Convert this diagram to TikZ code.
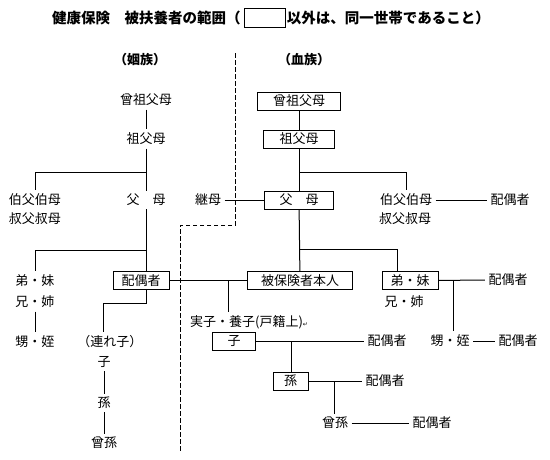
\documentclass[tikz,border=0pt]{standalone}
\usepackage{fontspec}
\setmainfont{Noto Sans CJK JP}
\newfontfamily\symfont{DejaVu Sans}
\usetikzlibrary{positioning}

\tikzset{
  kin/.style={draw, line width=0.8pt, minimum height=18pt, inner xsep=2pt, inner ysep=1pt},
  link/.style={line width=1pt},
  border/.style={line width=1pt, dash pattern=on 4.5pt off 2.5pt},
  heading/.style={anchor=west, inner sep=0pt, font=\fontsize{14.5}{16}\selectfont\bfseries}
}

\begin{document}
\begin{tikzpicture}[x=1pt, y=-1pt, font=\fontsize{13}{19}\selectfont]
    \useasboundingbox (0,0) rectangle (550,459);

    % Titre
    \node[heading] (title) at (52,18) {健康保険　被扶養者の範囲（};
    \node[draw, line width=0.8pt, minimum width=41pt, minimum height=19pt, inner sep=0pt, right=3pt of title] (legend) {};
    \node[heading, right=1pt of legend] (title2) {以外は、同一世帯であること）};

    % Limite姻族 / 血族 (pointillés)
    \draw[border] (235,53) -- (235,225) -- (180,225) -- (180,452);

    \node[font=\fontsize{13}{19}\selectfont\bfseries] (inzoku) at (140,60) {（姻族）};
    \node[font=\fontsize{13}{19}\selectfont\bfseries] (ketsuzoku) at (304,60) {（血族）};

    % Côté 姻族
    \node (isofubo) at (146,100) {曾祖父母};
    \node (isobo) at (146,139) {祖父母};
    \node (ifubo) at (146,200) {父　母};
    \node (ioji1) at (35,200) {伯父伯母};
    \node (ioji2) at (35,219) {叔父叔母};
    \node (ikyodai1) at (35,281) {弟・妹};
    \node (ikyodai2) at (35,302) {兄・姉};
    \node (ioi) at (35,342) {甥・姪};
    \node[kin, minimum width=56pt] (ihaigu) at (141,280.5) {配偶者};
    \node (itsure) at (110,342) {（連れ子）};
    \node (iko) at (104,362) {子};
    \node (imago) at (104,403) {孫};
    \node (ihimago) at (104,443) {曾孫};
    \node (keibo) at (208,200) {継母};

    % Côté 血族
    \node[kin, minimum width=83pt] (ksofubo) at (299,101) {曾祖父母};
    \node[kin, minimum width=71pt] (ksobo) at (299,139) {祖父母};
    \node[kin, minimum width=69pt] (kfubo) at (299,200) {父　母};
    \node (koji1) at (406,200) {伯父伯母};
    \node (koji2) at (405,219) {叔父叔母};
    \node (kojihaigu) at (510,200) {配偶者};
    \node[kin, minimum width=105pt] (honnin) at (300,280.5) {被保険者本人};
    \node[kin, minimum width=56pt] (kkyodai) at (410,280.5) {弟・妹};
    \node (kane) at (404,302) {兄・姉};
    \node (kkyodaihaigu) at (508,280) {配偶者};
    \node (koi) at (450,341) {甥・姪};
    \node (koihaigu) at (518,341) {配偶者};
    \node[anchor=west, inner xsep=0pt] (jisshi) at (190,322) {実子・養子(戸籍上){\symfont\fontsize{6}{6}\selectfont ↵}};
    \node[kin, minimum width=43pt] (kko) at (234,341) {子};
    \node (kkohaigu) at (387,341) {配偶者};
    \node[kin, minimum width=35pt] (kmago) at (290.5,381) {孫};
    \node (kmagohaigu) at (385,381) {配偶者};
    \node (khimago) at (335,423) {曾孫};
    \node (khimagohaigu) at (432,423) {配偶者};

    % Liens 姻族
    \draw[link] (isofubo) -- (isobo);
    \draw[link] (isobo) -- (ifubo);
    \coordinate (ij1) at (146,172);
    \draw[link] (ij1) -| (ioji1.north);
    \draw[link] (ifubo.south) -- (ifubo.south |- ihaigu.north);
    \coordinate (ij2) at (146,250);
    \draw[link] (ij2) -| (ikyodai1.north);
    \draw[link] (ikyodai2) -- (ioi);
    \coordinate (ij3) at (103,303);
    \draw[link] (ifubo |- ihaigu.south) |- (ij3) -- (ij3 |- itsure.north);
    \draw[link] (iko) -- (imago);
    \draw[link] (imago) -- (ihimago);
    \draw[link] (keibo) -- (kfubo);

    % Liens 血族
    \draw[link] (ksofubo) -- (ksobo);
    \draw[link] (ksobo) -- (kfubo);
    \coordinate (kj1) at (299,172);
    \draw[link] (kj1) -| (koji1.north);
    \draw[link] (koji1) -- (kojihaigu);
    \draw[link] (kfubo) -- (honnin);
    \coordinate (kj2) at (299,249);
    \draw[link] (kj2) -| ([xshift=-13pt]kkyodai.north);
    \draw[link] (ihaigu) -- (honnin);
    \coordinate (kj3) at (228,280.5);
    \draw[link] (kj3) -- (kj3 |- jisshi.north);
    \draw[link] (kkyodai) -- (kkyodaihaigu);
    \coordinate (kj4) at (453,280.5);
    \draw[link] (kj4) -- (kj4 |- koi.north);
    \draw[link] (koi) -- (koihaigu);
    \draw[link] (kko) -- (kkohaigu);
    \coordinate (kj5) at (291,341);
    \draw[link] (kj5) -- (kj5 |- kmago.north);
    \draw[link] (kmago) -- (kmagohaigu);
    \coordinate (kj6) at (334,381);
    \draw[link] (kj6) -- (kj6 |- khimago.north);
    \draw[link] (khimago) -- (khimagohaigu);

\end{tikzpicture}
\end{document}
